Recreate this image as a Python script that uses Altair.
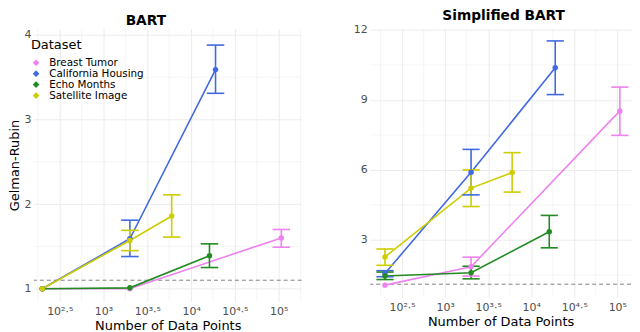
import altair as alt
import pandas as pd

datasets = ["Breast Tumor", "California Housing", "Echo Months", "Satellite Image"]
colors = ["#EE82EE", "#4169E1", "#228B22", "#CDCD00"]

# ---- BART panel ----
bart_dataset = ["Breast Tumor"] * 3 + ["California Housing"] * 3 + ["Echo Months"] * 3 + ["Satellite Image"] * 3
bart_n = [200, 2000, 107000, 200, 2000, 19000, 200, 2000, 16200, 200, 2000, 6000]
bart_mean = [1.00, 1.00, 1.60, 1.00, 1.59, 3.59, 1.00, 1.01, 1.39, 1.00, 1.57, 1.86]
bart_lo = [1.00, 1.00, 1.49, 1.00, 1.38, 3.31, 1.00, 1.01, 1.25, 1.00, 1.45, 1.61]
bart_hi = [1.00, 1.00, 1.70, 1.00, 1.81, 3.88, 1.00, 1.01, 1.53, 1.00, 1.69, 2.11]

# ---- Simplified BART panel ----
simp_dataset = bart_dataset
simp_n = [200, 2000, 107000, 200, 2000, 19000, 200, 2000, 16200, 200, 2000, 6000]
simp_mean = [1.06, 1.85, 8.53, 1.56, 5.90, 10.38, 1.45, 1.59, 3.35, 2.27, 5.22, 5.89]
simp_lo = [1.06, 1.45, 7.48, 1.42, 4.93, 9.23, 1.30, 1.33, 2.66, 1.91, 4.43, 5.05]
simp_hi = [1.06, 2.26, 9.55, 1.68, 6.88, 11.53, 1.62, 1.87, 4.05, 2.61, 6.00, 6.74]

ref_line = 1.1

x_major = [2.5, 3, 3.5, 4, 4.5, 5]
x_minor = [2.25, 2.75, 3.25, 3.75, 4.25, 4.75, 5.25]
x_labels = ["10²·⁵", "10³", "10³·⁵", "10⁴", "10⁴·⁵", "10⁵"]

bart_y_major = [1, 2, 3, 4]
bart_y_minor = [1.5, 2.5, 3.5]
simp_y_major = [3, 6, 9, 12]
simp_y_minor = [1.5, 4.5, 7.5, 10.5]

FONT = "DejaVu Sans"
GRID = "#EBEBEB"


def label_expr(values, labels):
    return "".join(f"datum.value == {v} ? '{l}' : " for v, l in zip(values, labels)) + "datum.label"


def panel(title, dsn, n, mean, lo, hi, xdom, ydom, ymaj, ymin, width, height,
          show_legend, ytitle, title_dx, title_offset):
    df = pd.DataFrame({"dataset": dsn, "n": n, "mean": mean, "lo": lo, "hi": hi})
    base = alt.Chart(df).transform_calculate(
        logn="log(datum.n) / LN10",
        lx="log(datum.n) / LN10 - 0.1",
        hx="log(datum.n) / LN10 + 0.1",
    )
    xscale = alt.Scale(domain=xdom, nice=False, zero=False)
    yscale = alt.Scale(domain=ydom, nice=False, zero=False)
    xaxis = alt.Axis(
        values=x_major, labelExpr=label_expr(x_major, x_labels),
        title="Number of Data Points", grid=True, labelOverlap=False,
        gridColor=GRID, gridWidth=1, labelFlush=False,
        labelPadding=4, titlePadding=3,
    )
    yaxis = alt.Axis(
        title=ytitle, values=ymaj, format="d", grid=True, labelOverlap=False,
        gridColor=GRID, gridWidth=1, labelFlush=False,
        labelPadding=3, titlePadding=2,
    )

    xmin_rules = alt.Chart(pd.DataFrame({"v": x_minor})).transform_filter(
        f"datum.v > {xdom[0]} && datum.v < {xdom[1]}"
    ).mark_rule(color=GRID, strokeWidth=0.5).encode(
        x=alt.X("v:Q", scale=xscale, axis=xaxis)
    )
    ymin_rules = alt.Chart(pd.DataFrame({"v": ymin})).transform_filter(
        f"datum.v > {ydom[0]} && datum.v < {ydom[1]}"
    ).mark_rule(color=GRID, strokeWidth=0.5).encode(
        y=alt.Y("v:Q", scale=yscale, axis=yaxis)
    )

    sscale = alt.Scale(domain=datasets, range=colors)
    if show_legend:
        legend = alt.Legend(
            title="Dataset", orient="none", legendX=-3, legendY=10,
            symbolType="diamond", symbolSize=45, symbolStrokeWidth=0,
            titleFont=FONT, titleFontSize=13, titleFontWeight="normal", titleColor="#000000",
            labelFont=FONT, labelFontSize=10.4, labelColor="#000000",
            padding=0, rowPadding=0, titlePadding=6, labelOffset=8, symbolOffset=0,
        )
    else:
        legend = None

    ref = alt.Chart(pd.DataFrame({"y": [ref_line]})).mark_rule(
        color="#808080", strokeDash=[4, 3], strokeWidth=1
    ).encode(y=alt.Y("y:Q", scale=yscale))

    stroke = alt.Stroke("dataset:N", scale=sscale, legend=None)
    lines = base.mark_line(strokeWidth=1.6).encode(
        x=alt.X("logn:Q", scale=xscale),
        y=alt.Y("mean:Q", scale=yscale),
        stroke=stroke,
    )
    eb = base.transform_filter("datum.hi > datum.lo")
    bars = eb.mark_rule(strokeWidth=1.6).encode(
        x="logn:Q", y="lo:Q", y2="hi:Q", stroke=stroke,
    )
    cap_lo = eb.mark_rule(strokeWidth=1.6).encode(
        x="lx:Q", x2="hx:Q", y="lo:Q", stroke=stroke,
    )
    cap_hi = eb.mark_rule(strokeWidth=1.6).encode(
        x="lx:Q", x2="hx:Q", y="hi:Q", stroke=stroke,
    )
    pts = base.mark_point(filled=True, size=30, opacity=1).encode(
        x="logn:Q", y="mean:Q",
        color=alt.Color("dataset:N", scale=alt.Scale(domain=datasets, range=colors), legend=legend),
    )
    return alt.layer(xmin_rules, ymin_rules, ref, lines, bars, cap_lo, cap_hi, pts).properties(
        width=width, height=height,
        title=alt.TitleParams(
            title, font=FONT, fontSize=13.8, fontWeight="bold", color="#000000",
            anchor="middle", dx=title_dx, offset=title_offset,
        ),
    )


left = panel("BART", bart_dataset, bart_n, bart_mean, bart_lo, bart_hi,
             [2.205, 5.261], [0.85, 4.074], bart_y_major, bart_y_minor,
             269, 274, True, "Gelman-Rubin", -22, 1)
right = panel("Simplified BART", simp_dataset, simp_n, simp_mean, simp_lo, simp_hi,
              [2.13, 5.159], [0.535, 12.055], simp_y_major, simp_y_minor,
              262, 270, False, "", 3, 1)

chart = alt.hconcat(left, right, spacing=51).resolve_scale(
    stroke="independent"
).properties(padding={"left": 1, "top": 0, "right": 0, "bottom": 0}, background="white").configure_view(
    strokeWidth=0
).configure_axis(
    labelFont=FONT, labelFontSize=11, labelColor="#4D4D4D",
    titleFont=FONT, titleFontSize=13, titleFontWeight="normal", titleColor="#000000",
    domain=False, ticks=False, tickSize=0,
)

chart.save("out.html", embed_options={"renderer": "svg", "actions": False})
